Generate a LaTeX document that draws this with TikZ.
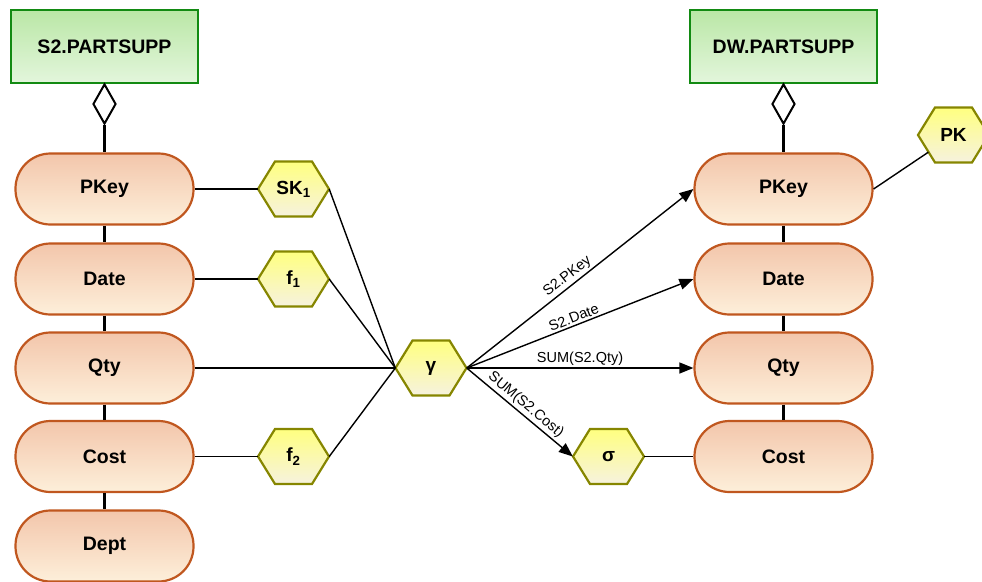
\documentclass[tikz,border=0pt]{standalone}
\usepackage{fontspec}
\setmainfont{Liberation Sans}
\usetikzlibrary{arrows.meta,shapes.geometric,calc}

\definecolor{tblborder}{HTML}{128A12}
\definecolor{tbltop}{HTML}{BAE7A6}
\definecolor{tblbot}{HTML}{E3F6DC}
\definecolor{attrborder}{HTML}{C0571F}
\definecolor{attrtop}{HTML}{F3C6AB}
\definecolor{attrbot}{HTML}{FDEFDA}
\definecolor{hexborder}{HTML}{868600}
\definecolor{hextop}{HTML}{FFFF80}
\definecolor{hexbot}{HTML}{F6F2DE}

\tikzset{
  table/.style={draw=tblborder, line width=2.5pt, top color=tbltop, bottom color=tblbot,
    minimum width=187pt, minimum height=73pt, inner sep=0pt,
    font=\bfseries\fontsize{19.5}{22}\selectfont},
  attr/.style={draw=attrborder, line width=2.2pt, top color=attrtop, bottom color=attrbot,
    rounded corners=35pt, minimum width=178pt, minimum height=71pt, inner sep=0pt,
    font=\bfseries\fontsize{19.5}{22}\selectfont},
  hexlabel/.style={minimum width=71pt, minimum height=55pt, inner sep=0pt,
    font=\bfseries\fontsize{19}{22}\selectfont},
  hexshape/.style={draw=hexborder, line width=2.2pt, top color=hextop, bottom color=hexbot},
  agg/.style={shape=diamond, draw, fill=white, line width=2pt,
    minimum width=23pt, minimum height=40pt, inner sep=0pt},
  spine/.style={line width=3pt},
  link/.style={line width=1.4pt},
  flow/.style={line width=1.4pt, -{Triangle[length=14pt,width=11pt]}},
  flowlabel/.style={font=\fontsize{14.5}{16}\selectfont, sloped, above, inner sep=2pt}
}

% hexagonal operator: shaded outline first, then the named label node on top
\newcommand\hexop[3]{%
  \shadedraw[hexshape] ($(#2)+(-35.5,0)$) -- ++(17,-27.5) -- ++(37,0) -- ++(17,27.5)
    -- ++(-17,27.5) -- ++(-37,0) -- cycle;
  \node[hexlabel] (#1) at (#2) {#3};}

\begin{document}
\begin{tikzpicture}[x=1pt,y=-1pt]
  \useasboundingbox (0,0) rectangle (982,581);
  \clip (0,0) rectangle (982,581);

  % source table
  \node[table] (srctbl) at (104.5,46.5) {S2.PARTSUPP};
  \node[agg] (srcagg) at (104.5,104) {};
  \node[attr] (spkey) at (104.5,189) {PKey};
  \node[attr] (sdate) at (104.5,279) {Date};
  \node[attr] (sqty)  at (104.5,368) {Qty};
  \node[attr] (scost) at (104.5,456.5) {Cost};
  \node[attr] (sdept) at (104.5,546) {Dept};

  \draw[spine] (srcagg.south) -- (spkey.north);
  \draw[spine] (spkey.south) -- (sdate.north);
  \draw[spine] (sdate.south) -- (sqty.north);
  \draw[spine] (sqty.south) -- (scost.north);
  \draw[spine] (scost.south) -- (sdept.north);

  % target table
  \node[table] (dwtbl) at (783.5,46.5) {DW.PARTSUPP};
  \node[agg] (dwagg) at (783.5,104) {};
  \node[attr] (dpkey) at (783.5,189) {PKey};
  \node[attr] (ddate) at (783.5,279) {Date};
  \node[attr] (dqty)  at (783.5,368) {Qty};
  \node[attr] (dcost) at (783.5,456.5) {Cost};

  \draw[spine] (dwagg.south) -- (dpkey.north);
  \draw[spine] (dpkey.south) -- (ddate.north);
  \draw[spine] (ddate.south) -- (dqty.north);
  \draw[spine] (dqty.south) -- (dcost.north);

  % operators
  \hexop{sk}{293.5,189}{SK\textsubscript{1}}
  \hexop{fone}{293.5,279}{f\textsubscript{1}}
  \hexop{ftwo}{293.5,456.5}{f\textsubscript{2}}
  \hexop{gamma}{431,368}{γ}
  \hexop{sigma}{608.5,456.5}{σ}
  \hexop{pk}{953.5,135}{PK}

  % inputs to the operators
  \draw[link] (spkey.east) -- (sk.west);
  \draw[link] (sdate.east) -- (fone.west);
  \draw[link] (scost.east) -- (ftwo.west);
  \draw[link] (sk.east) -- (gamma.west);
  \draw[link] (fone.east) -- (gamma.west);
  \draw[link] (sqty.east) -- (gamma.west);
  \draw[link] (ftwo.east) -- (gamma.west);

  % outputs of the aggregation
  \draw[flow] (gamma.east) -- node[flowlabel, pos=0.47] {S2.PKey} (dpkey.west);
  \draw[flow] (gamma.east) -- node[flowlabel, pos=0.485] {S2.Date} (ddate.west);
  \draw[flow] (gamma.east) -- node[flowlabel, pos=0.5] {SUM(S2.Qty)} (dqty.west);
  \draw[flow] (gamma.east) -- node[flowlabel, pos=0.5] {SUM(S2.Cost)} (sigma.west);
  \draw[link] (sigma.east) -- (dcost.west);

  % primary key marker
  \coordinate (pkfoot) at ($(pk.west)!0.62!([xshift=17pt]pk.south west)$);
  \draw[link] (dpkey.east) -- (pkfoot);
\end{tikzpicture}
\end{document}
